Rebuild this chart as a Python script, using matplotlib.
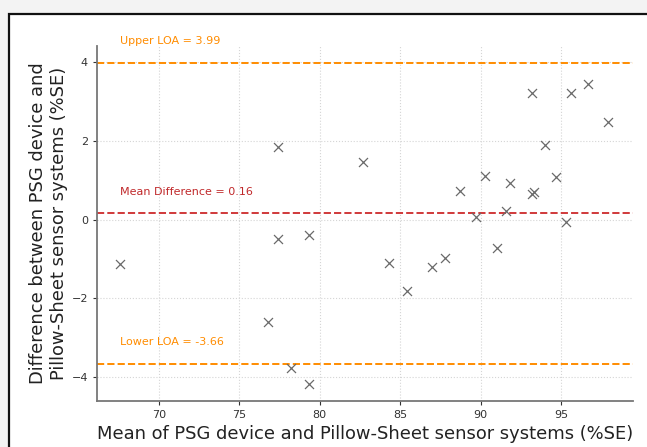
import matplotlib
matplotlib.use("Agg")
import matplotlib.pyplot as plt
from matplotlib.patches import Rectangle
import numpy as np

# Bland-Altman data: mean of the two systems vs. their difference (%SE)
mean_se = [67.6, 77.4, 77.4, 79.3, 82.7, 76.8, 78.2, 79.3, 84.3, 85.4,
           87.0, 87.8, 91.0, 88.7, 90.3, 91.8, 93.3, 93.2, 94.0, 94.7,
           93.2, 95.6, 96.7, 97.9, 91.6, 89.7, 95.3]
diff_se = [-1.13, 1.84, -0.49, -0.39, 1.46, -2.60, -3.76, -4.19, -1.10, -1.82,
           -1.20, -0.98, -0.72, 0.72, 1.10, 0.92, 0.70, 0.65, 1.90, 1.08,
           3.21, 3.21, 3.45, 2.47, 0.22, 0.06, -0.05]

mean_diff = 0.16
upper_loa = 3.99
lower_loa = -3.66

fig = plt.figure(figsize=(6.47, 4.47), dpi=100)
fig.patch.set_facecolor("#f3f3f3")
# white panel with a black frame, kept behind the axes
fig.patches.append(Rectangle((9 / 647, -0.1), 1.2, 1 - 14 / 447 + 0.1,
                             transform=fig.transFigure, facecolor="white",
                             edgecolor="#111111", linewidth=1.6, zorder=-5))

ax = fig.add_axes([97 / 647, 1 - 401 / 447, (633 - 97) / 647, (401 - 46) / 447])
ax.set_facecolor("white")
ax.set_zorder(1)

ax.scatter(mean_se, diff_se, marker="x", color="#6a6a6a", s=42, linewidths=0.9, zorder=3)

ax.axhline(upper_loa, color="#ff8c00", linestyle="--", linewidth=1.4, zorder=2)
ax.axhline(mean_diff, color="#d0393a", linestyle="--", linewidth=1.4, zorder=2)
ax.axhline(lower_loa, color="#ff8c00", linestyle="--", linewidth=1.4, zorder=2)

x_text = min(mean_se)
ax.text(x_text, upper_loa + 0.55, f"Upper LOA = {upper_loa:.2f}", color="#ff8c00",
        fontsize=8, va="center", clip_on=False)
ax.text(x_text, mean_diff + 0.55, f"Mean Difference = {mean_diff:.2f}", color="#c0282a",
        fontsize=8, va="center")
ax.text(x_text, lower_loa + 0.55, f"Lower LOA = {lower_loa:.2f}", color="#ff8c00",
        fontsize=8, va="center")

ax.set_xlim(66.15, 99.47)
ax.set_ylim(-4.61, 4.41)
ax.set_xticks([70, 75, 80, 85, 90, 95])
ax.set_yticks([-4, -2, 0, 2, 4])
ax.grid(True, color="#d5d5d5", linestyle=":", linewidth=0.8)
ax.set_axisbelow(True)

for side in ["top", "right"]:
    ax.spines[side].set_visible(False)
for side in ["left", "bottom"]:
    ax.spines[side].set_color("#777777")
    ax.spines[side].set_linewidth(1.3)
ax.tick_params(labelsize=8, colors="#333333", length=3, width=0.8)

ax.set_xlabel("Mean of PSG device and Pillow-Sheet sensor systems (%SE)",
              fontsize=12.9, color="#222222", labelpad=3.5)
ax.set_ylabel("Difference between PSG device and\nPillow-Sheet sensor systems (%SE)",
              fontsize=12.9, color="#222222", labelpad=2.5)

fig.savefig("out.png", dpi=100, facecolor=fig.get_facecolor())
